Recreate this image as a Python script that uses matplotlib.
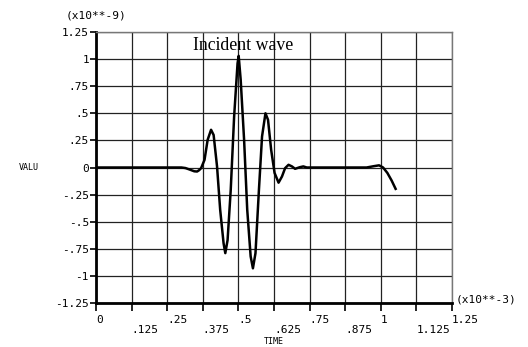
import matplotlib
matplotlib.use("Agg")
import matplotlib.pyplot as plt

# incident wave, time in units of 1e-3, value in units of 1e-9
time = [0.0, 0.300, 0.314, 0.330, 0.345, 0.355, 0.362, 0.369, 0.381, 0.392,
        0.404, 0.413, 0.425, 0.436, 0.448, 0.454, 0.462, 0.473, 0.485, 0.497,
        0.501, 0.508, 0.520, 0.531, 0.543, 0.551, 0.560, 0.572, 0.583, 0.595,
        0.604, 0.615, 0.627, 0.641, 0.653, 0.664, 0.676, 0.688, 0.699, 0.716,
        0.728, 0.740, 0.950, 0.975, 0.994, 1.008, 1.023, 1.038, 1.052]
value = [0.0, 0.0, -0.005, -0.02, -0.035, -0.037, -0.025, -0.006, 0.07, 0.255,
         0.348, 0.30, 0.01, -0.39, -0.70, -0.79, -0.67, -0.21, 0.47, 0.96,
         1.03, 0.81, 0.255, -0.39, -0.82, -0.93, -0.79, -0.21, 0.286, 0.50,
         0.44, 0.163, -0.05, -0.14, -0.083, -0.006, 0.025, 0.01, -0.012, 0.003,
         0.01, 0.0, 0.0, 0.012, 0.02, 0.0, -0.05, -0.12, -0.197]

xticks = [0, 0.125, 0.25, 0.375, 0.5, 0.625, 0.75, 0.875, 1.0, 1.125, 1.25]
xtick_labels = ["0", ".125", ".25", ".375", ".5", ".625", ".75", ".875", "1", "1.125", "1.25"]
yticks = [1.25, 1.0, 0.75, 0.5, 0.25, 0, -0.25, -0.5, -0.75, -1.0, -1.25]
ytick_labels = ["1.25", "1", ".75", ".5", ".25", "0", "-.25", "-.5", "-.75", "-1", "-1.25"]

mono = "DejaVu Sans Mono"

fig = plt.figure(figsize=(5.28, 3.47), dpi=100)
ax = fig.add_axes([96 / 528, 1 - 303 / 347, 356 / 528, 271 / 347])

ax.plot(time, value, color="black", lw=1.8, zorder=3)

ax.set_xlim(0, 1.25)
ax.set_ylim(-1.25, 1.25)

# staggered x labels: odd ones on a second row
stag = [lab if i % 2 == 0 else "\n" + lab for i, lab in enumerate(xtick_labels)]
ax.set_xticks(xticks)
ax.set_xticklabels(stag, fontfamily=mono, fontsize=8, ha="left", va="top", linespacing=1.05)
ax.set_yticks(yticks)
ax.set_yticklabels(ytick_labels, fontfamily=mono, fontsize=8)

ax.tick_params(axis="x", direction="out", length=6, width=1.2, pad=2.5, colors="black")
ax.tick_params(axis="y", direction="out", length=4.5, width=1.2, pad=0.5, colors="black")

ax.grid(True, color="#222222", lw=0.9, zorder=1)
ax.set_axisbelow(True)

ax.spines["left"].set_linewidth(2.0)
ax.spines["bottom"].set_linewidth(2.0)
ax.spines["top"].set_linewidth(1.0)
ax.spines["right"].set_linewidth(1.0)
ax.spines["top"].set_color("#777777")
ax.spines["right"].set_color("#777777")

fig.text(96 / 528, 1 - 16 / 347, "(x10**-9)", fontfamily=mono, fontsize=8,
         ha="center", va="center")
fig.text(456 / 528, 1 - 300 / 347, "(x10**-3)", fontfamily=mono, fontsize=8,
         ha="left", va="center")
fig.text(29 / 528, 1 - 167 / 347, "VALU", fontfamily=mono, fontsize=6,
         ha="center", va="center")
fig.text(274 / 528, 1 - 341 / 347, "TIME", fontfamily=mono, fontsize=6,
         ha="center", va="center")

ax.text(0.517, 1.125, "Incident wave", fontfamily="Liberation Serif", fontsize=12.8,
        ha="center", va="center", zorder=4)

fig.savefig("out.png", dpi=100, facecolor="white")
